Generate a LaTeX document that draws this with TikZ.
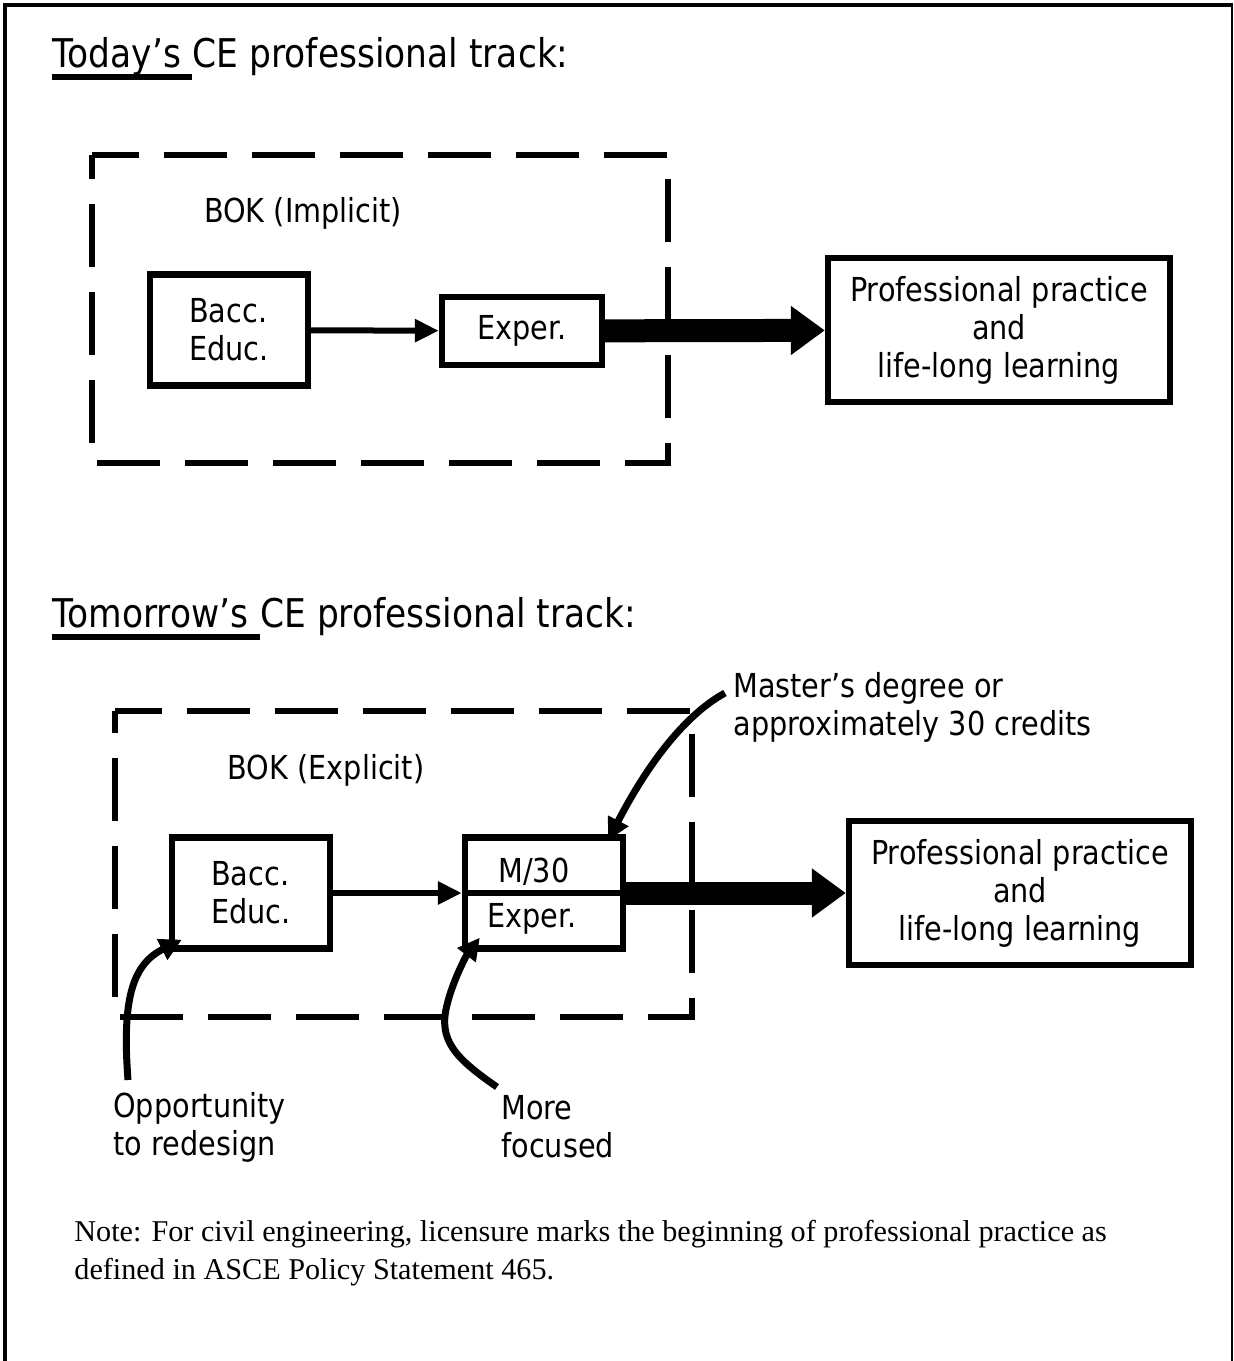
\documentclass[tikz,border=0pt]{standalone}
\usepackage{fontspec}
\setmainfont{DejaVu Sans}[FakeStretch=0.87]
\newfontfamily\notefont{Liberation Serif}
\usepackage{tikz}
\usetikzlibrary{arrows.meta, calc}

\begin{document}
\begin{tikzpicture}[x=0.5pt, y=-0.5pt,
  txt/.style={font=\fontsize{16.5pt}{19pt}\selectfont, inner sep=0pt, align=left},
  ttl/.style={font=\fontsize{19.8pt}{23pt}\selectfont, inner sep=0pt, anchor=base west},
  stage/.style={draw, line width=3.2pt, inner sep=0pt, font=\fontsize{16.5pt}{19pt}\selectfont},
  bokframe/.style={line width=3.2pt, dash pattern=on 31.5pt off 12.5pt, dash phase=8pt},
  feed/.style={-{Triangle[length=12pt, width=11pt]}, line width=3pt},
  bigfeed/.style={-{Triangle[length=17pt, width=23.5pt]}, line width=11.5pt},
  callout/.style={-{Triangle[length=11pt, width=11pt]}, line width=3.5pt}]
\useasboundingbox (0,0) rectangle (1233,1361);
\draw[line width=2pt] (5,1361) -- (5,5) -- (1233,5);
\draw[line width=1pt] (1232,5) -- (1232,1361);

\node[ttl] (today) at (52,67) {Today’s\kern0.28em};
\node[ttl] (today2) at (today.base east) {CE professional track:};
\fill ($(today.base west)+(0,7)$) rectangle ($(today.base east)+(0,13)$);
\draw[bokframe] (92,155) -- (668,155) -- (668,463) -- (92,463) -- cycle;
\node[txt] (bok1) at (303,213) {BOK (Implicit)};
\node[stage, align=left, minimum width=79pt, minimum height=55.5pt] (bacc1) at (229,330) {Bacc.\\Educ.};
\node[stage, minimum width=80pt, minimum height=34pt] (exper1) at (522,331) {Exper.};
\node[stage, align=center, minimum width=171pt, minimum height=72pt] (prof1) at (999,330)
  {Professional practice\\and\\life-long learning};
\draw[feed] (bacc1) -- (exper1);
\draw[bigfeed] (exper1) -- (prof1);

\node[ttl] (tomorrow) at (52,627) {Tomorrow’s\kern0.28em};
\node[ttl] (tomorrow2) at (tomorrow.base east) {CE professional track:};
\fill ($(tomorrow.base west)+(0,7)$) rectangle ($(tomorrow.base east)+(0,13)$);
\draw[bokframe] (115,711) -- (692,711) -- (692,1017) -- (115,1017) -- cycle;
\node[txt] (bok2) at (326,770) {BOK (Explicit)};
\node[stage, align=left, minimum width=79pt, minimum height=55.5pt] (bacc2) at (251,893) {Bacc.\\Educ.};
\node[stage, minimum width=79pt, minimum height=55.5pt] (mexp2) at (544,893) {};
\draw[line width=3.2pt] (mexp2.west) -- (mexp2.east);
\node[txt] (m30) at ($(mexp2.center)+(-10,-21)$) {M/30};
\node[txt] (exper2) at ($(mexp2.center)+(-12,26)$) {Exper.};
\node[stage, align=center, minimum width=171pt, minimum height=72pt] (prof2) at (1020,893)
  {Professional practice\\and\\life-long learning};
\draw[feed] (bacc2) -- (mexp2);
\draw[bigfeed] (mexp2) -- (prof2);

\node[txt, anchor=west] (master) at (733,707) {Master’s degree or\\approximately 30 credits};
\node[txt, anchor=west] (redesign) at (113,1127) {Opportunity\\to redesign};
\node[txt, anchor=west] (focused) at (501,1127) {More\\focused};
\coordinate (mtail) at (725,693);
\coordinate (mtip) at ($(mexp2.north east)+(-18,6)$);
\coordinate (otail) at (128,1080);
\coordinate (otip) at ($(bacc2.south west)+(13,-12)$);
\coordinate (ftail) at (497,1087);
\coordinate (fmid) at (447,1005);
\coordinate (ftip) at ($(mexp2.south west)+(18,-14)$);
\draw[callout] (mtail) .. controls +(-35,19) and +(44,-85) .. (mtip);
\draw[callout] (otail) .. controls +(-6,-80) and +(-50,25) .. (otip);
\draw[callout] (ftail) .. controls +(-42,-29) and +(-9,35) .. (fmid)
  .. controls +(6,-25) and +(-13,17) .. (ftip);

\node[font=\notefont\fontsize{15.1pt}{19pt}\selectfont, inner sep=0pt, align=left, anchor=west] (note) at (74,1253)
  {Note: For civil engineering, licensure marks the beginning of professional practice as\\defined in ASCE Policy Statement 465.};
\end{tikzpicture}
\end{document}
